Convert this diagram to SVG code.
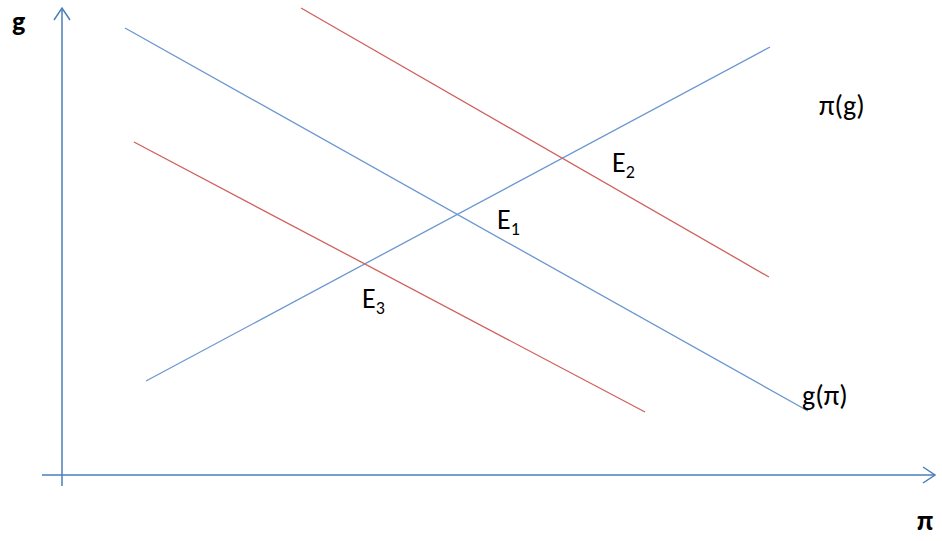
<svg xmlns="http://www.w3.org/2000/svg" width="942" height="541" viewBox="0 0 942 541">
<style>
.ax{stroke:#4A7EBB;stroke-width:1.5;fill:none}
.b{stroke:#6A96D0;stroke-width:1.3;fill:none}
.r{stroke:#D0605C;stroke-width:1.3;fill:none}
text{font-family:Calibri,"Liberation Sans","Open Sans",sans-serif;font-size:28px;fill:#000}
.sub{font-size:18px}
</style>
<defs>
<marker id="arr" viewBox="0 0 20 20" refX="18" refY="10" markerWidth="20" markerHeight="20" markerUnits="userSpaceOnUse" orient="auto">
<path d="M6,2 L18,10 L6,18" fill="none" stroke="#4A7EBB" stroke-width="1.5"/>
</marker>
</defs>
<g id="connectors">
<line id="y-axis" class="ax" x1="62" y1="486" x2="62" y2="8" marker-end="url(#arr)"/>
<line id="x-axis" class="ax" x1="42" y1="475" x2="935" y2="475" marker-end="url(#arr)"/>
<line id="g-pi" class="b" x1="125" y1="28" x2="808" y2="411"/>
<line id="pi-g" class="b" x1="146" y1="381" x2="770" y2="47"/>
<line id="red-upper" class="r" x1="301" y1="8" x2="769" y2="277"/>
<line id="red-lower" class="r" x1="134" y1="142" x2="645" y2="412"/>
</g>
<g id="labels">
<text x="12" y="31" font-weight="bold">g</text>
<text x="819" y="115">π(g)</text>
<text x="802" y="405">g(π)</text>
<text x="917" y="530" font-weight="bold">π</text>
<text x="612" y="172">E<tspan class="sub" dy="6">2</tspan></text>
<text x="497" y="229">E<tspan class="sub" dy="6">1</tspan></text>
<text x="362" y="308">E<tspan class="sub" dy="6">3</tspan></text>
</g>
</svg>
